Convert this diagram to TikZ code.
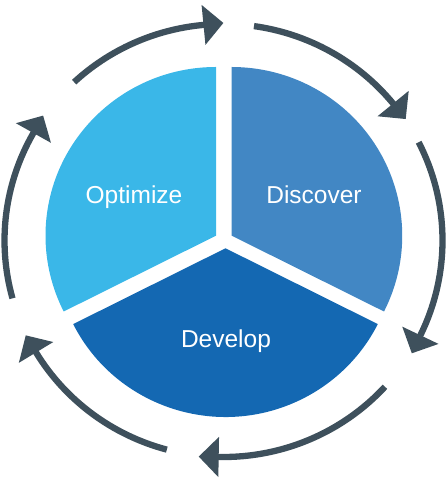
\documentclass[tikz,border=0pt]{standalone}
\usepackage{fontspec}
\setmainfont{Liberation Sans}
\usetikzlibrary{arrows.meta,calc}
\definecolor{optcol}{HTML}{3AB7E8}
\definecolor{discol}{HTML}{4287C4}
\definecolor{devcol}{HTML}{1468B2}
\definecolor{ringcol}{HTML}{3E505C}
\begin{document}
\begin{tikzpicture}[x=1pt,y=1pt,
  ring/.style={draw=ringcol, line width=6.3pt, -{Triangle[length=20pt,width=39pt]}},
  wedgetext/.style={text=white, font=\fontsize{24.5}{28}\selectfont, inner sep=0pt, anchor=base}]
\useasboundingbox (0,0) rectangle (447,478);
% centres
\coordinate (C) at (223.5,237.5);
\coordinate (O) at (216,242.3);
\coordinate (D) at (231.7,242.3);
\coordinate (V) at (225.5,229.7);
% wedges
\fill[optcol] (O) -- ($(O)+(90:170.5 and 168.7)$) arc[start angle=90,end angle=206.7,x radius=170.5,y radius=168.7] -- cycle;
\fill[discol] (D) -- ($(D)+(-26.7:170.5 and 168.7)$) arc[start angle=-26.7,end angle=90,x radius=170.5,y radius=168.7] -- cycle;
\fill[devcol] (V) -- ($(V)+(206.7:170.5 and 168.7)$) arc[start angle=206.7,end angle=333.3,x radius=170.5,y radius=168.7] -- cycle;
% labels
\node[wedgetext] (opt) at (134,274.3) {Optimize};
\node[wedgetext] (dis) at (314,274.3) {Discover};
\node[wedgetext] (dev) at (226,130) {Develop};
% ring arrows
\foreach \i/\s/\b in {1/133/95.5, 2/82/39.5, 3/27/-25.7, 4/-42.5/-91, 5/-105/-148.6, 6/-164.5/-209.5}{
  \coordinate (s\i) at ($(C)+(\s:219 and 216.5)$);
  \coordinate (b\i) at ($(C)+(\b:219 and 216.5)$);
  \coordinate (t\i) at ($(b\i)!21pt!90:(C)$);
  \draw[ring] (s\i) arc[start angle=\s,end angle=\b,x radius=219,y radius=216.5] -- (t\i);
}
\end{tikzpicture}
\end{document}
